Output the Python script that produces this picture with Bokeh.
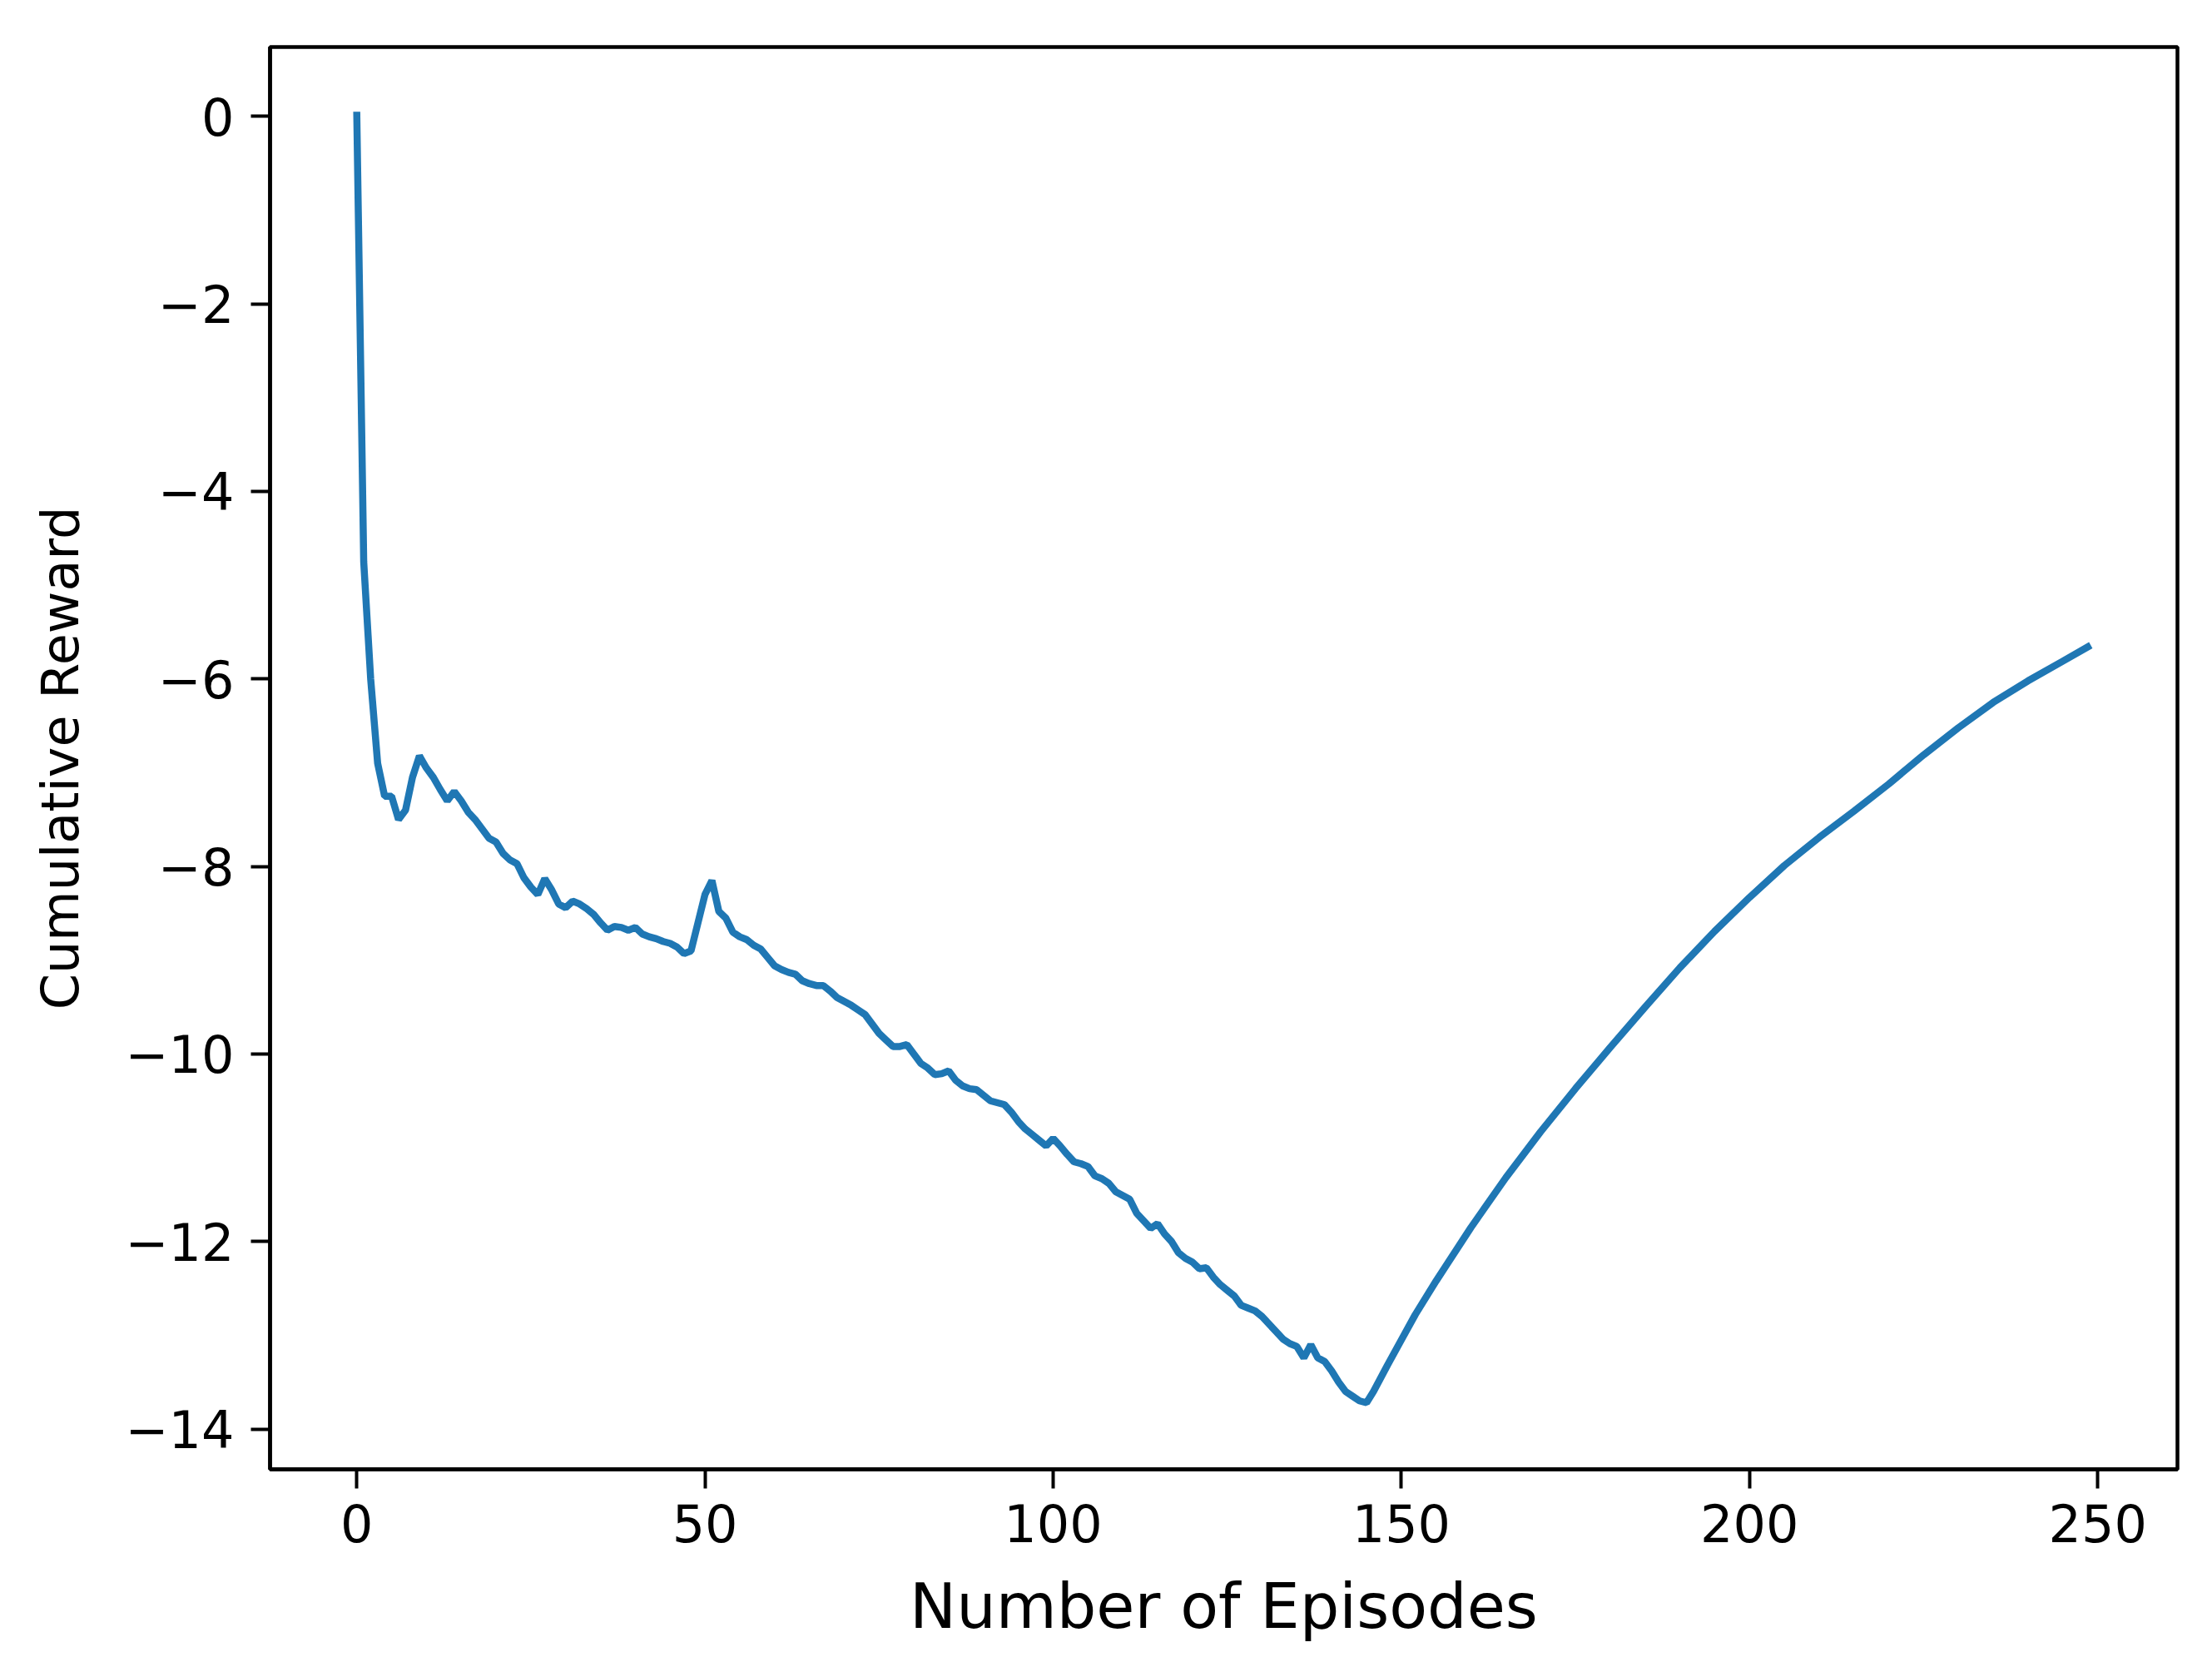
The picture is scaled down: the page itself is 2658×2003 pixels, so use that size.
from bokeh.plotting import figure
from bokeh.models import Range1d, FixedTicker
from bokeh.embed import file_html
from bokeh.resources import INLINE

# ---- data ----
episodes_early = list(range(0, 149))
reward_early = [
    0.05, -4.75, -6.00, -6.90, -7.25, -7.25, -7.50, -7.40, -7.05, -6.82,
    -6.95, -7.05, -7.18, -7.30, -7.20, -7.30, -7.42, -7.50, -7.60, -7.70,
    -7.74, -7.86, -7.93, -7.97, -8.12, -8.22, -8.30, -8.13, -8.25, -8.40,
    -8.44, -8.37, -8.40, -8.45, -8.51, -8.60, -8.68, -8.64, -8.65, -8.68,
    -8.65, -8.72, -8.75, -8.77, -8.80, -8.82, -8.86, -8.93, -8.90, -8.60,
    -8.30, -8.15, -8.48, -8.55, -8.70, -8.75, -8.78, -8.84, -8.88, -8.97,
    -9.06, -9.10, -9.13, -9.15, -9.22, -9.25, -9.27, -9.27, -9.33, -9.40,
    -9.44, -9.48, -9.53, -9.58, -9.68, -9.78, -9.85, -9.92, -9.92, -9.90,
    -10.00, -10.10, -10.15, -10.22, -10.21, -10.18, -10.28, -10.34, -10.37, -10.38,
    -10.44, -10.50, -10.52, -10.54, -10.62, -10.72, -10.80, -10.86, -10.92, -10.98,
    -10.90, -10.98, -11.07, -11.15, -11.17, -11.20, -11.30, -11.33, -11.38, -11.47,
    -11.51, -11.55, -11.70, -11.78, -11.86, -11.81, -11.92, -12.00, -12.12, -12.18,
    -12.22, -12.29, -12.28, -12.38, -12.46, -12.52, -12.58, -12.68, -12.71, -12.74,
    -12.80, -12.88, -12.96, -13.04, -13.09, -13.12, -13.24, -13.10, -13.24, -13.28,
    -13.38, -13.50, -13.60, -13.65, -13.70, -13.72, -13.60, -13.46, -13.32,
]
episodes_late = [150, 152, 155, 160, 165, 170, 175, 180, 185, 190, 195, 200,
                 205, 210, 215, 220, 225, 230, 235, 240, 245, 249]
reward_late = [-13.05, -12.78, -12.42, -11.85, -11.32, -10.83, -10.37, -9.93,
               -9.50, -9.08, -8.69, -8.33, -7.99, -7.69, -7.41, -7.12, -6.81,
               -6.52, -6.25, -6.02, -5.81, -5.64]

x_ticks = [0, 50, 100, 150, 200, 250]
y_ticks = [0, -2, -4, -6, -8, -10, -12, -14]
y_tick_labels = ["0", "\u22122", "\u22124", "\u22126", "\u22128", "\u221210", "\u221212", "\u221214"]

episodes = episodes_early + episodes_late
rewards = reward_early + reward_late

FONT = "DejaVu Sans"

p = figure(
    output_backend="svg", toolbar_location=None,
    frame_width=2292, frame_height=1709,
    x_range=Range1d(-12.45, 261.45), y_range=Range1d(-14.43, 0.74),
    min_border_left=324, min_border_right=34, min_border_top=56, min_border_bottom=222,
    background_fill_color="white", border_fill_color="white",
)
p.line(episodes, rewards, line_color="#1f77b4", line_width=8.5)

p.grid.visible = False
p.outline_line_color = "black"
p.outline_line_width = 4.5
p.outline_line_alpha = 1.0

p.xaxis.ticker = FixedTicker(ticks=x_ticks)
p.yaxis.ticker = FixedTicker(ticks=y_ticks)
p.yaxis.major_label_overrides = {t: l for t, l in zip(y_ticks, y_tick_labels)}

for ax in (p.xaxis[0], p.yaxis[0]):
    ax.axis_line_color = "black"
    ax.axis_line_width = 4.5
    ax.major_tick_line_color = "black"
    ax.major_tick_line_width = 4
    ax.major_tick_out = 23
    ax.major_tick_in = 0
    ax.minor_tick_line_color = None
    ax.major_label_text_font = FONT
    ax.major_label_text_font_size = "62px"
    ax.major_label_text_color = "black"
    ax.axis_label_text_font = FONT
    ax.axis_label_text_font_style = "normal"
    ax.axis_label_text_color = "black"

p.xaxis.axis_label = "Number of Episodes"
p.xaxis.axis_label_text_font_size = "75px"
p.xaxis.major_label_standoff = 18
p.xaxis.axis_label_standoff = 30

p.yaxis.axis_label = "Cumulative Reward"
p.yaxis.axis_label_text_font_size = "62px"
p.yaxis.major_label_standoff = 20
p.yaxis.axis_label_standoff = 39

open("out.html", "w").write(file_html(p, INLINE))
